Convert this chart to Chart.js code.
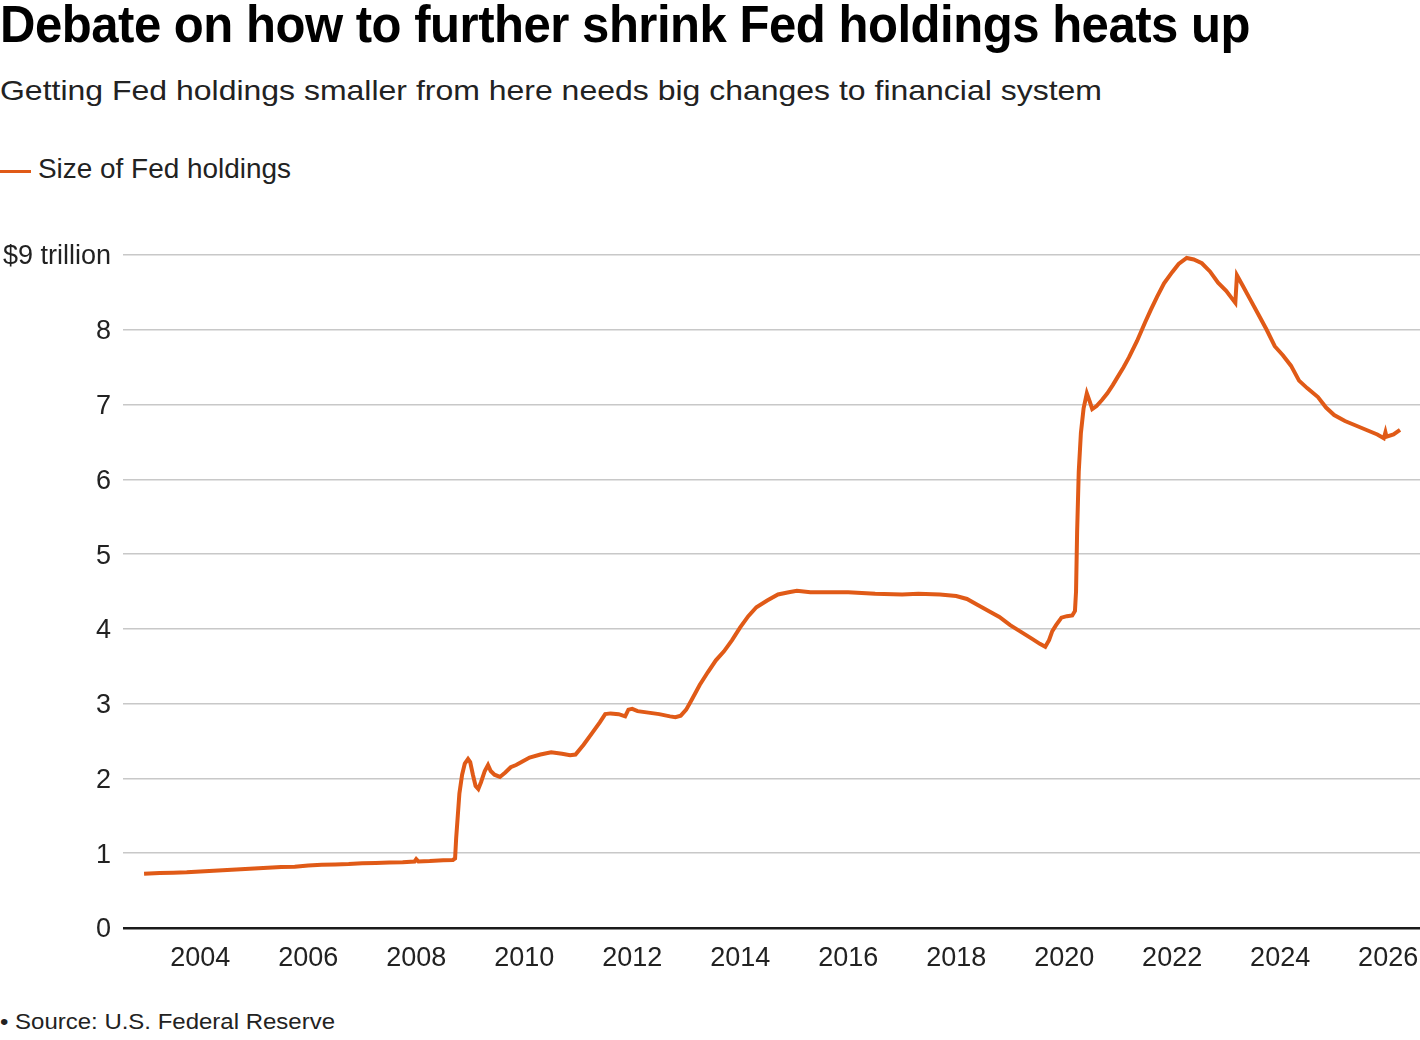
<!DOCTYPE html>
<html>
<head>
<meta charset="utf-8">
<script src="https://cdn.jsdelivr.net/npm/chart.js@4"></script>
<style>
  html, body { margin: 0; padding: 0; background: #fff; }
  body { width: 1420px; height: 1040px; position: relative; overflow: hidden; font-family: "Liberation Sans", Arial, sans-serif; color: #222; }
  .txt { position: absolute; left: 0; white-space: nowrap; transform-origin: 0 0; }
  #title { top: -2px; font-size: 52px; line-height: 53px; font-weight: bold; color: #000; letter-spacing: -0.5px; }
  #subtitle { top: 77px; font-size: 28px; line-height: 28px; color: #222; }
  #legendText { left: 38px; top: 156px; font-size: 27px; line-height: 27px; color: #222; }
  #legendLine { position: absolute; left: 0; top: 170px; width: 31px; height: 3px; background: #e05a17; }
  #source { top: 1011px; font-size: 22px; line-height: 22px; color: #222; }
  #chart { position: absolute; left: 0; top: 0; }
</style>
</head>
<body>
<div id="title" class="txt">Debate on how to further shrink Fed holdings heats up</div>
<div id="subtitle" class="txt">Getting Fed holdings smaller from here needs big changes to financial system</div>
<div id="legendLine"></div>
<div id="legendText" class="txt">Size of Fed holdings</div>
<div id="source" class="txt">• Source: U.S. Federal Reserve</div>
<canvas id="chart" width="1420" height="1040"></canvas>
<script>
// Dates as decimal years
const dates = [
  2002.96, 2003.25, 2003.5, 2003.75, 2004.0, 2004.25, 2004.5, 2004.75,
  2005.0, 2005.25, 2005.5, 2005.75, 2006.0, 2006.25, 2006.5, 2006.75,
  2007.0, 2007.25, 2007.5, 2007.75, 2007.97, 2008.0, 2008.04, 2008.25,
  2008.5, 2008.68, 2008.72, 2008.74, 2008.77, 2008.8, 2008.85, 2008.9,
  2008.96, 2009.0, 2009.05, 2009.1, 2009.15, 2009.2, 2009.27, 2009.33,
  2009.38, 2009.45, 2009.55, 2009.65, 2009.75, 2009.85, 2009.95, 2010.1,
  2010.3, 2010.5, 2010.7, 2010.85, 2010.95, 2011.1, 2011.25, 2011.4,
  2011.5, 2011.6, 2011.75, 2011.87, 2011.93, 2012.0, 2012.1, 2012.3,
  2012.5, 2012.7, 2012.8, 2012.9, 2013.0, 2013.1, 2013.25, 2013.4,
  2013.55, 2013.7, 2013.85, 2014.0, 2014.15, 2014.3, 2014.5, 2014.7,
  2014.9, 2015.05, 2015.3, 2015.6, 2016.0, 2016.5, 2017.0, 2017.3,
  2017.7, 2018.0, 2018.2, 2018.4, 2018.6, 2018.8, 2019.0, 2019.2,
  2019.4, 2019.55, 2019.65, 2019.72, 2019.78, 2019.85, 2019.95, 2020.05,
  2020.15, 2020.2, 2020.22, 2020.24, 2020.27, 2020.31, 2020.36, 2020.42,
  2020.47, 2020.52, 2020.6, 2020.7, 2020.8, 2020.9, 2021.0, 2021.1,
  2021.2, 2021.35, 2021.5, 2021.6, 2021.72, 2021.85, 2022.0, 2022.12,
  2022.27, 2022.4, 2022.55, 2022.7, 2022.85, 2023.0, 2023.17, 2023.2,
  2023.3, 2023.45, 2023.6, 2023.75, 2023.9, 2024.05, 2024.2, 2024.35,
  2024.5, 2024.7, 2024.85, 2025.0, 2025.2, 2025.4, 2025.6, 2025.8,
  2025.92, 2025.95, 2025.97, 2026.1, 2026.22
];
// Size of Fed holdings, $ trillion
const holdings = [
  0.725, 0.735, 0.74, 0.745, 0.755, 0.765, 0.775, 0.785,
  0.795, 0.805, 0.815, 0.82, 0.835, 0.845, 0.85, 0.855,
  0.865, 0.87, 0.875, 0.88, 0.89, 0.92, 0.89, 0.895,
  0.905, 0.91, 0.93, 1.2, 1.5, 1.8, 2.05, 2.2,
  2.26, 2.22, 2.05, 1.9, 1.86, 1.95, 2.1, 2.18,
  2.1, 2.05, 2.02, 2.08, 2.15, 2.18, 2.22, 2.28,
  2.32, 2.35, 2.33, 2.31, 2.32, 2.45, 2.6, 2.75,
  2.86, 2.87, 2.86, 2.83, 2.92, 2.93, 2.9, 2.88,
  2.86, 2.83, 2.82, 2.84, 2.92, 3.05, 3.25, 3.42,
  3.58, 3.7, 3.85, 4.02, 4.17, 4.29, 4.38, 4.46,
  4.49, 4.51, 4.49, 4.49, 4.49, 4.47, 4.46, 4.47,
  4.46, 4.44, 4.40, 4.32, 4.24, 4.16, 4.05, 3.96,
  3.87, 3.8, 3.76, 3.85, 3.97, 4.05, 4.15, 4.17,
  4.18, 4.24, 4.5, 5.3, 6.1, 6.62, 6.95, 7.15,
  7.05, 6.94, 6.98, 7.06, 7.15, 7.26, 7.38, 7.5,
  7.63, 7.85, 8.1, 8.26, 8.44, 8.62, 8.77, 8.88,
  8.96, 8.94, 8.89, 8.78, 8.63, 8.52, 8.36, 8.73,
  8.6, 8.4, 8.2, 8.0, 7.78, 7.66, 7.52, 7.32,
  7.22, 7.1, 6.96, 6.86, 6.78, 6.72, 6.66, 6.6,
  6.55, 6.63, 6.57, 6.6, 6.66
];
const xTickYears = [2004, 2006, 2008, 2010, 2012, 2014, 2016, 2018, 2020, 2022, 2024, 2026];
const yTickValues = [0, 1, 2, 3, 4, 5, 6, 7, 8, 9];
const yTickLabels = ['0', '1', '2', '3', '4', '5', '6', '7', '8', '$9 trillion'];
const seriesName = 'Size of Fed holdings';

const points = dates.map((d, i) => ({ x: d, y: holdings[i] }));
const ORANGE = '#e05a17';
const TEXT = '#222';
const tickFont = { family: '"Liberation Sans", Arial, sans-serif', size: 27 };

new Chart(document.getElementById('chart'), {
  type: 'line',
  data: {
    datasets: [{
      label: seriesName,
      data: points,
      borderColor: ORANGE,
      backgroundColor: ORANGE,
      borderWidth: 4,
      pointRadius: 0,
      tension: 0,
      fill: false
    }]
  },
  options: {
    responsive: false,
    animation: false,
    layout: { padding: { top: 255, bottom: 52, left: 0, right: 0 } },
    plugins: { legend: { display: false }, tooltip: { enabled: false }, title: { display: false } },
    scales: {
      x: {
        type: 'linear',
        min: 2002.57,
        max: 2026.59,
        afterBuildTicks: (s) => { s.ticks = xTickYears.map(v => ({ value: v })); },
        afterFit: (s) => { s.height = 60; s.paddingLeft = 0; s.paddingRight = 0; },
        grid: { display: false, drawTicks: false },
        border: { display: false },
        ticks: {
          color: TEXT, font: tickFont, padding: 14, maxRotation: 0, autoSkip: false,
          callback: (v) => String(v)
        }
      },
      y: {
        min: 0,
        max: 9,
        afterBuildTicks: (s) => { s.ticks = yTickValues.map(v => ({ value: v })); },
        afterFit: (s) => { s.width = 123; s.paddingTop = 0; s.paddingBottom = 0; },
        border: { display: false },
        grid: {
          drawTicks: false,
          color: (c) => (c.tick && c.tick.value === 0) ? '#1a1a1a' : '#c8c8c8',
          lineWidth: (c) => (c.tick && c.tick.value === 0) ? 2.5 : 1.5
        },
        ticks: {
          color: TEXT, font: tickFont, padding: 12, labelOffset: 2,
          callback: (v) => { const i = yTickValues.indexOf(v); return i >= 0 ? yTickLabels[i] : ''; }
        }
      }
    }
  }
});

// fit text widths to the reference
function fit(id, target) {
  const el = document.getElementById(id);
  const w = el.getBoundingClientRect().width;
  if (w > 0) el.style.transform = 'scaleX(' + (target / w) + ')';
}
fit('title', 1250);
fit('subtitle', 1102);
fit('legendText', 253);
fit('source', 335);
</script>
</body>
</html>
